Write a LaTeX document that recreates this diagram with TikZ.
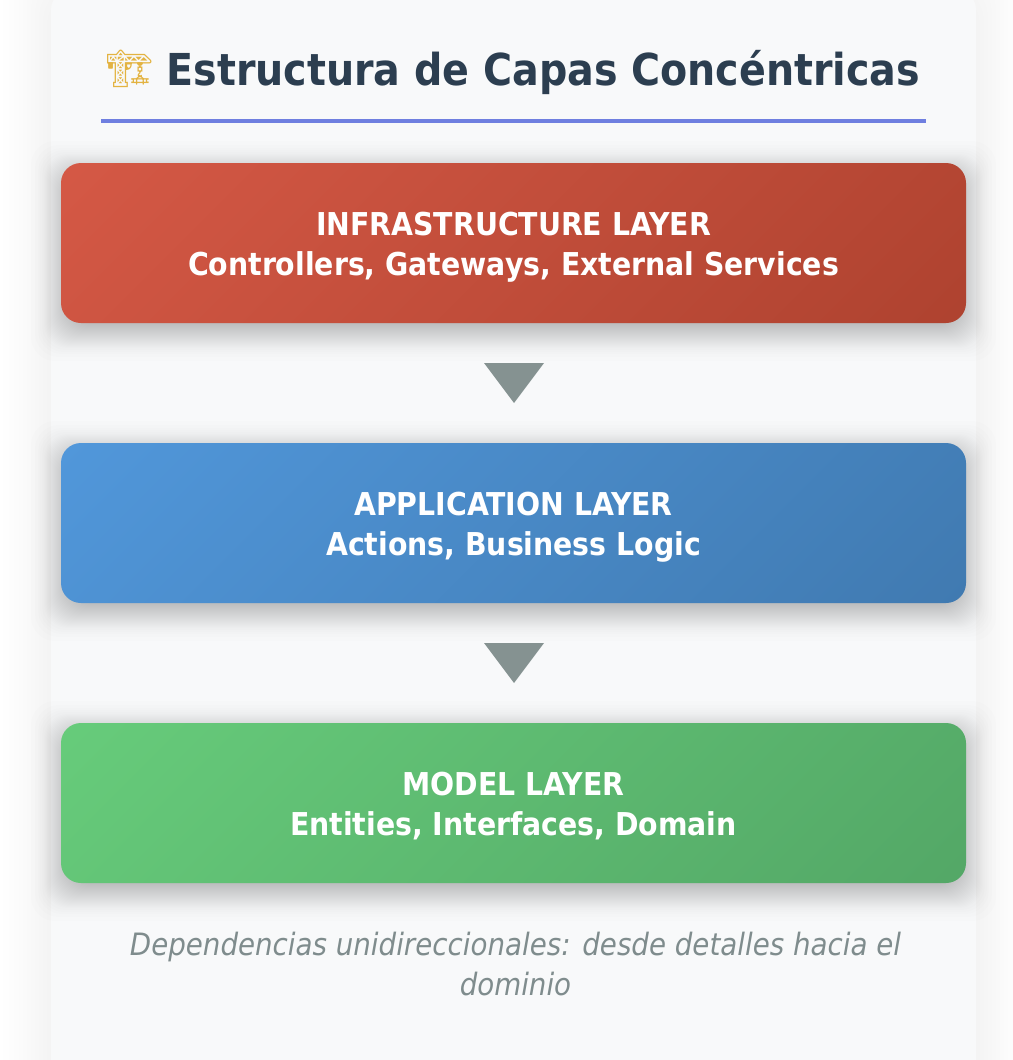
\documentclass[tikz,border=0pt]{standalone}
\usepackage{fontspec}
\setmainfont{DejaVu Sans Condensed}
\newfontfamily\emojifont{Noto Emoji}
\usetikzlibrary{shapes.geometric}

\definecolor{panelbg}{HTML}{F8F9FA}
\definecolor{titleink}{HTML}{2C3E50}
\definecolor{ruleblue}{HTML}{6F7FE0}
\definecolor{craneink}{HTML}{E3B341}
\definecolor{arrowink}{HTML}{859291}
\definecolor{noteink}{HTML}{7F8C8D}
\definecolor{redA}{HTML}{D75A47}
\definecolor{redB}{HTML}{AC412E}
\definecolor{blueA}{HTML}{5299DD}
\definecolor{blueB}{HTML}{3F78AE}
\definecolor{greenA}{HTML}{68CE7C}
\definecolor{greenB}{HTML}{52A565}

\colorlet{layertop}{redA}
\colorlet{layerbot}{redB}
\pgfdeclareverticalshading[layertop,layerbot]{layergrad}{100bp}{color(0bp)=(layerbot); color(10bp)=(layerbot); color(90bp)=(layertop); color(100bp)=(layertop)}

\tikzset{
  layerbox/.style 2 args={minimum width=905pt, minimum height=160pt, inner sep=0pt, outer sep=0pt,
    rounded corners=20pt, /utils/exec={\colorlet{layertop}{#1}\colorlet{layerbot}{#2}},
    shading=layergrad, shading angle=45, text=white, align=center, text height=64pt, text depth=0pt,
    font=\fontsize{31.5}{40}\selectfont\bfseries},
  downarrow/.style={isosceles triangle, isosceles triangle stretches, shape border rotate=-90,
    minimum width=60pt, minimum height=40pt, inner sep=0pt, outer sep=0pt, anchor=apex, fill=arrowink},
}

\begin{document}
\begin{tikzpicture}[x=1pt,y=-1pt]
        \useasboundingbox (0,0) rectangle (1012,1060);
        % panel and its shadow
        \foreach \g in {48,42,37,32,28,24,20,16,12,8,4,0}
                \fill[black, opacity=0.004, rounded corners=40pt] (51-\g,-10-\g) rectangle (976+\g,1200);
        \fill[panelbg, rounded corners=20pt] (51,-10) rectangle (976,1100);
        % shadows under the layers
        \foreach \y in {163,443,723}
                \foreach \g in {30,26,23,21,19,17,16,15,14,13,12,11,10,9,8,7,6,5,4,3,2,1,0,-1,-2,-3,-4,-5,-6,-7,-8,-9,-10,-11,-12,-13,-14,-15,-16,-17,-19,-21,-23,-26,-30}
                        \fill[black, opacity=0.006, rounded corners=24pt] (61-\g,\y+8-\g) rectangle (966+\g,\y+168+\g);

        \node[font=\fontsize{44}{50}\selectfont\bfseries, text=titleink, anchor=base] (title) at (513,85)
                {{\emojifont\fontsize{37}{50}\selectfont\color{craneink}\raisebox{4pt}{^^^^^1f3d7}} Estructura de Capas Concéntricas};
        \fill[ruleblue] (101,119) rectangle (926,123);

        \node[layerbox={redA}{redB}] (infra) at (513.5,243)
                {INFRASTRUCTURE LAYER\\Controllers, Gateways, External Services};
        \node[layerbox={blueA}{blueB}] (app) at (513.5,523)
                {APPLICATION LAYER\\Actions, Business Logic};
        \node[layerbox={greenA}{greenB}] (model) at (513.5,803)
                {MODEL LAYER\\Entities, Interfaces, Domain};

        \node[downarrow] (arrowA) at (514,403) {};
        \node[downarrow] (arrowB) at (514,683) {};

        \node[text=noteink, align=center, font=\fontsize{30.8}{40}\selectfont\itshape, anchor=base] (note) at (515.5,995)
                {Dependencias unidireccionales: desde detalles hacia el\\dominio};
\end{tikzpicture}
\end{document}
